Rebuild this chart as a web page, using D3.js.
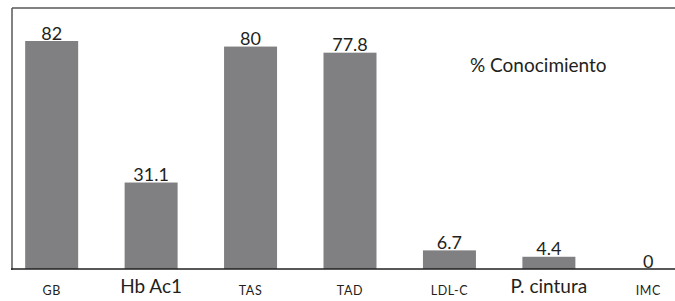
<!DOCTYPE html>
<html>
<head>
<meta charset="utf-8">
<script src="https://cdn.jsdelivr.net/npm/d3@7"></script>
<style>
  html, body { margin: 0; padding: 0; background: #fff; overflow: hidden; }
  svg { display: block; font-family: Lato, "Open Sans", sans-serif; }
</style>
</head>
<body>
<div id="chart"></div>
<script>
// -------- Data --------
const categories = ['GB', 'Hb Ac1', 'TAS', 'TAD', 'LDL-C', 'P. cintura', 'IMC'];
const values     = [82, 31.1, 80, 77.8, 6.7, 4.4, 0];
const valueLabels = ['82', '31.1', '80', '77.8', '6.7', '4.4', '0'];
const bigLabels  = ['Hb Ac1', 'P. cintura'];   // these were typed larger in the source
const legendText = '% Conocimiento';

// -------- Dimensions --------
const dims = { width: 675, height: 301 };
const frame = { left: 12, top: 8, bottom: 269 };

const svg = d3.select('#chart')
  .append('svg')
  .attr('width', dims.width)
  .attr('height', dims.height);

// -------- Scales --------
const x = d3.scaleBand()
  .domain(categories)
  .range([2, 698])          // chart runs past the crop on the right
  .paddingInner(0.467)
  .paddingOuter(0.233);

const y = d3.scaleLinear()
  .domain([0, 82])
  .range([frame.bottom, 41]);

// -------- Frame --------
svg.append('line')
  .attr('x1', frame.left).attr('x2', dims.width)
  .attr('y1', frame.top).attr('y2', frame.top)
  .attr('stroke', '#58585a').attr('stroke-width', 1.5);

svg.append('line')
  .attr('x1', frame.left).attr('x2', frame.left)
  .attr('y1', frame.top).attr('y2', frame.bottom + 1)
  .attr('stroke', '#58585a').attr('stroke-width', 1.5);

// -------- Bars --------
svg.selectAll('rect.bar')
  .data(values)
  .join('rect')
    .attr('class', 'bar')
    .attr('x', (d, i) => x(categories[i]))
    .attr('y', d => y(d))
    .attr('width', x.bandwidth())
    .attr('height', d => y(0) - y(d))
    .attr('fill', '#808083');

// axis line
svg.append('line')
  .attr('x1', frame.left - 1).attr('x2', dims.width)
  .attr('y1', frame.bottom).attr('y2', frame.bottom)
  .attr('stroke', '#231f20').attr('stroke-width', 1.5);

// -------- Value labels --------
svg.selectAll('text.val')
  .data(values)
  .join('text')
    .attr('class', 'val')
    .attr('x', (d, i) => x(categories[i]) + x.bandwidth() / 2)
    .attr('y', d => y(d) - 1.5)
    .attr('text-anchor', 'middle')
    .attr('font-size', 18)
    .attr('fill', '#231f20')
    .text((d, i) => valueLabels[i]);

// -------- Category labels --------
svg.selectAll('text.cat')
  .data(categories)
  .join('text')
    .attr('class', 'cat')
    .attr('x', d => x(d) + x.bandwidth() / 2)
    .attr('y', d => bigLabels.includes(d) ? 293 : 295)
    .attr('text-anchor', 'middle')
    .attr('font-size', d => bigLabels.includes(d) ? 19 : 12.5)
    .attr('letter-spacing', d => bigLabels.includes(d) ? 0 : 0.6)
    .attr('fill', '#231f20')
    .text(d => d);

// -------- Legend text --------
svg.append('text')
  .attr('x', 470)
  .attr('y', 72)
  .attr('font-size', 19)
  .attr('fill', '#231f20')
  .text(legendText);
</script>
</body>
</html>
